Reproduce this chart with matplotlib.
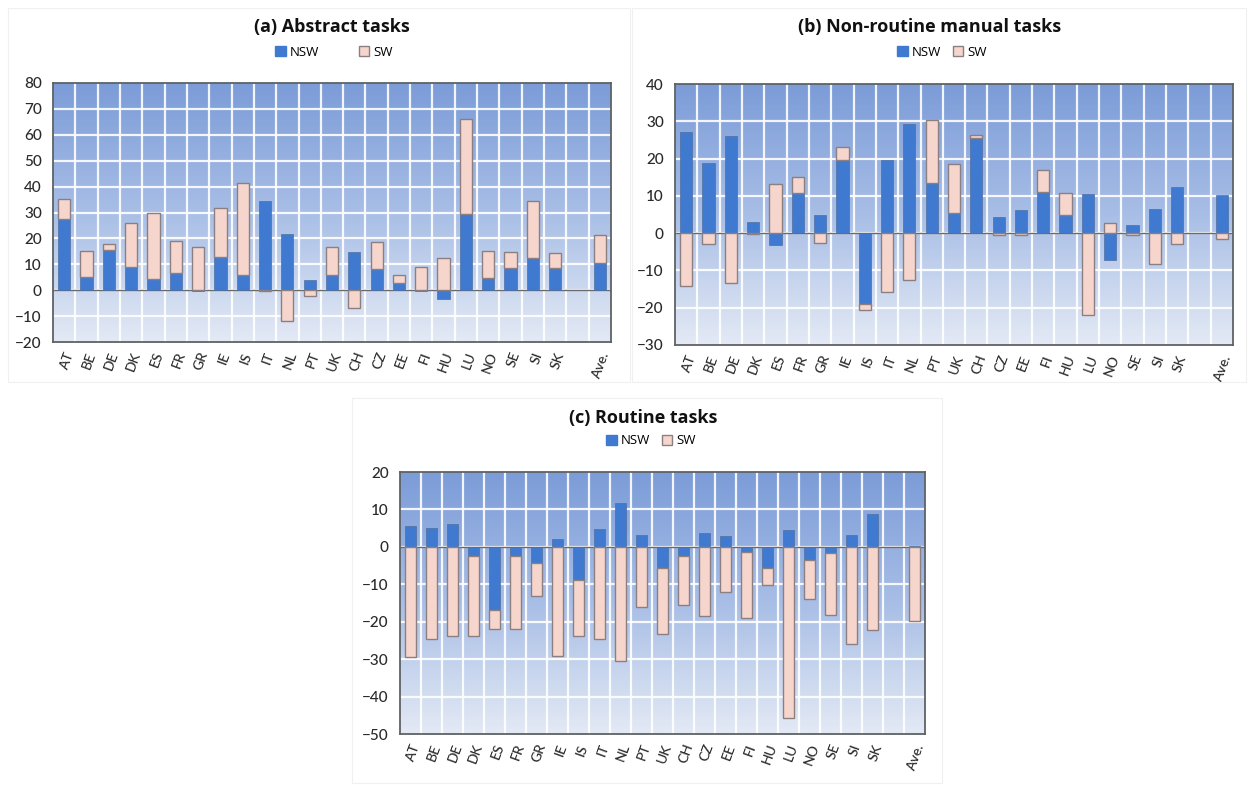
import numpy as np
import matplotlib
matplotlib.use("Agg")
import matplotlib.pyplot as plt
from matplotlib.patches import Patch, Rectangle
from matplotlib.colors import LinearSegmentedColormap

countries = ["AT", "BE", "DE", "DK", "ES", "FR", "GR", "IE", "IS", "IT", "NL", "PT",
             "UK", "CH", "CZ", "EE", "FI", "HU", "LU", "NO", "SE", "SI", "SK", "", "Ave."]

# (a) Abstract tasks
abs_nsw = [27.6, 5.2, 15.5, 8.9, 4.3, 6.5, -0.5, 12.8, 5.7, 34.4, 21.7, 4.1,
           5.7, 14.6, 8.0, 2.7, -0.3, -3.5, 29.4, 4.8, 8.7, 12.5, 8.7, 0, 10.5]
abs_sw = [7.7, 9.9, 2.2, 17.2, 25.5, 12.5, 16.8, 18.9, 35.7, -0.5, -12.0, -2.3,
          11.1, -6.7, 10.5, 3.1, 9.1, 12.3, 36.6, 10.5, 6.0, 22.0, 5.5, 0, 10.7]

# (b) Non-routine manual tasks
man_nsw = [27.0, 18.8, 26.0, 3.0, -3.1, 10.7, 4.9, 19.5, -19.0, 19.5, 29.3, 13.4,
           5.5, 25.4, 4.2, 6.2, 11.1, 4.9, 10.5, -7.3, 2.3, 6.6, 12.5, 0, 10.3]
man_sw = [-14.1, -3.0, -13.3, -0.3, 13.3, 4.3, -2.7, 3.7, -1.6, -15.9, -12.6, 17.0,
          13.1, 0.9, -0.4, -0.4, 5.9, 5.8, -21.9, 2.7, -0.4, -8.4, -3.0, 0, -1.5]

# (c) Routine tasks
rou_nsw = [5.6, 5.1, 6.2, -2.4, -17.0, -2.4, -4.2, 2.2, -8.9, 4.8, 11.8, 3.3,
           -5.6, -2.4, 3.8, 2.9, -1.5, -5.6, 4.6, -3.6, -1.6, 3.2, 8.8, 0, 0.3]
rou_sw = [-29.4, -24.6, -23.9, -21.5, -4.9, -19.6, -8.9, -29.2, -15.0, -24.6, -30.5, -16.1,
          -17.6, -13.1, -18.6, -12.0, -17.4, -4.6, -45.8, -10.3, -16.5, -25.9, -22.1, 0, -19.8]

NSW_C = "#3f7ad0"
SW_C = "#f6d6cc"
SW_E = "#8c7f82"

W, H = 1248, 785
fig = plt.figure(figsize=(W / 100, H / 100), dpi=100)
fig.patch.set_facecolor("white")

grad = LinearSegmentedColormap.from_list("g", ["#7c9cd8", "#a8bee6", "#e4eaf5"])


def panel(rect_px, nsw, sw, ylim, title, title_xy, legend_xy, frame_px, legend_gap):
    l, t, r, b = rect_px
    ax = fig.add_axes([l / W, 1 - b / H, (r - l) / W, (b - t) / H])
    g = np.linspace(0, 1, 256).reshape(-1, 1)
    ax.imshow(g, aspect="auto", cmap=grad, extent=[0, 1, 0, 1],
              transform=ax.transAxes, zorder=0, interpolation="bilinear")
    n = len(countries)
    x = np.arange(n)
    ax.set_xlim(-0.5, n - 0.5)
    ax.set_ylim(*ylim)
    for k in range(n - 1):
        ax.axvline(k + 0.5, color="white", lw=1.6, zorder=1, alpha=0.9)
    for yv in range(ylim[0] + 10, ylim[1], 10):
        ax.axhline(yv, color="white", lw=1.6, zorder=1, alpha=0.9)
    nsw = np.array(nsw, dtype=float)
    sw = np.array(sw, dtype=float)
    bottom_sw = np.where(np.sign(nsw) == np.sign(sw), nsw, 0.0)
    mask = np.array([c != "" for c in countries])
    wd = 0.55
    ax.bar(x[mask], nsw[mask], width=wd, color=NSW_C, edgecolor="#4f6f9f",
           linewidth=0.5, zorder=3)
    ax.bar(x[mask], sw[mask], bottom=bottom_sw[mask], width=wd, color=SW_C,
           edgecolor=SW_E, linewidth=1.0, zorder=3)
    ax.axhline(0, color="#6a6a6a", lw=1.0, zorder=2)
    ax.set_yticks(range(ylim[0], ylim[1] + 1, 10))
    ax.set_xticks(x[mask])
    ax.set_xticklabels([c for c in countries if c != ""], rotation=70,
                       ha="right", va="top", rotation_mode="anchor",
                       fontsize=10, color="#2a2a2a", family="Lato", fontweight="medium")
    ax.tick_params(axis="both", length=0)
    ax.tick_params(axis="y", labelsize=11, labelcolor="#2a2a2a", pad=8)
    for lab in ax.get_yticklabels():
        lab.set_family("Lato")
        lab.set_fontweight("medium")
    ax.tick_params(axis="x", pad=6)
    for s in ax.spines.values():
        s.set_color("#5e6266")
        s.set_linewidth(1.3)
        s.set_zorder(4)
    fig.text(title_xy[0] / W, 1 - title_xy[1] / H, title, ha="center", va="center",
             fontsize=13, fontweight="bold", family="Open Sans", color="#111111")
    handles = [Patch(facecolor=NSW_C, edgecolor=NSW_C),
               Patch(facecolor=SW_C, edgecolor=SW_E)]
    ax.legend(handles, ["NSW", "SW"], loc="center",
              bbox_to_anchor=(legend_xy[0] / W, 1 - legend_xy[1] / H),
              bbox_transform=fig.transFigure,
              ncol=2, frameon=False, handlelength=0.8,
              handleheight=0.8, handletextpad=0.3, columnspacing=legend_gap,
              prop={"family": "Open Sans", "size": 9.5})
    fl, ft, fr, fb = frame_px
    fig.patches.append(Rectangle((fl / W, 1 - fb / H), (fr - fl) / W, (fb - ft) / H,
                                 transform=fig.transFigure, fill=False,
                                 edgecolor="#f0f0f0", lw=0.8, zorder=0))
    return ax


panel((53, 83, 611, 342), abs_nsw, abs_sw, (-20, 80), "(a) Abstract tasks",
      (332, 27), (334, 52), (8, 8, 630, 382), 3.0)
panel((675, 84, 1233, 345), man_nsw, man_sw, (-30, 40), "(b) Non-routine manual tasks",
      (930, 27), (942, 52), (632, 8, 1246, 382), 0.9)
panel((400, 472, 925, 734), rou_nsw, rou_sw, (-50, 20), "(c) Routine tasks",
      (643, 418), (651, 441), (352, 398, 942, 783), 0.9)

fig.savefig("out.png", dpi=100, facecolor="white")
